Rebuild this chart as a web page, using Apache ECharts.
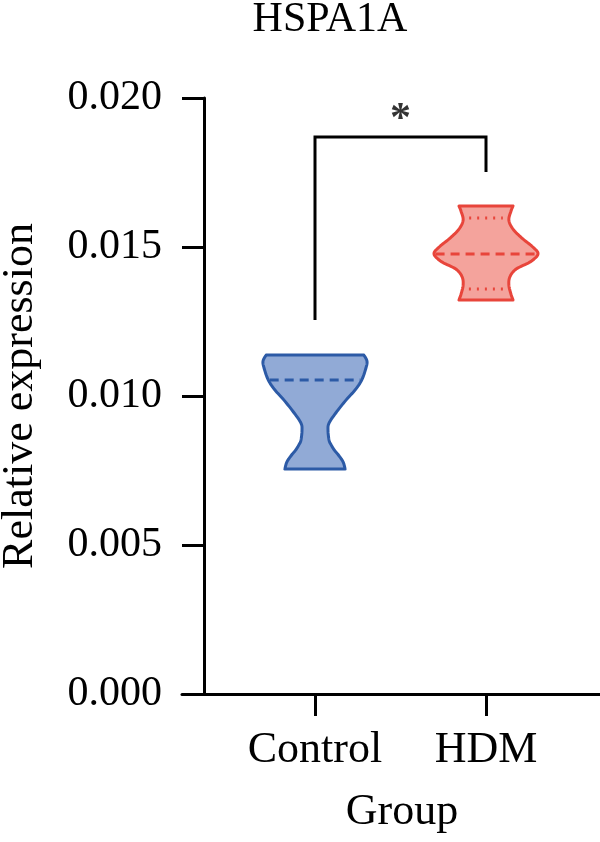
<!DOCTYPE html>
<html><head><meta charset="utf-8">
<script src="https://cdn.jsdelivr.net/npm/echarts@6/dist/echarts.min.js"></script>
<style>html,body{margin:0;padding:0;background:#fff}#c{width:600px;height:842px}</style>
</head><body><div id="c"></div>
<script>
const categories = ['Control', 'HDM'];
const yTicks = [0, 0.005, 0.010, 0.015, 0.020];
// violin outline: values (relative expression) and normalised density
const controlValues  = [0.00755, 0.00779, 0.00802, 0.00819, 0.00836, 0.00852, 0.00886, 0.00909, 0.00943, 0.00987, 0.0102, 0.01054, 0.01094, 0.01117, 0.011376];
const controlDensity = [0.58, 0.54, 0.45, 0.37, 0.31, 0.27, 0.25, 0.27, 0.40, 0.60, 0.77, 0.90, 0.98, 1.0, 0.94];
const hdmValues  = [0.013221, 0.01342, 0.01372, 0.0140, 0.01426, 0.0145, 0.014765, 0.0150, 0.0153, 0.0156, 0.0159, 0.0162, 0.016376];
const hdmDensity = [0.52, 0.48, 0.44, 0.46, 0.58, 0.85, 1.0, 0.90, 0.69, 0.52, 0.44, 0.48, 0.52];
const medians = [0.010537, 0.014765];
const q1 = [null, 0.013591];
const q3 = [null, 0.015973];
// significance bracket
const bracketX = [1, 1, 2, 2];
const bracketY = [0.01255, 0.01869, 0.01869, 0.01752];
const starPos = [1.5, 0.01953];
const starText = '*';

const profiles = [
  {v: controlValues, d: controlDensity, stroke: '#2c5aa6', fill: '#91aad6'},
  {v: hdmValues, d: hdmDensity, stroke: '#e8453b', fill: '#f4a39c'}
];
const HALF = 0.304;
const FONT = 'Liberation Serif';

function densAt(p, val) {
  for (let i = 0; i < p.v.length - 1; i++) {
    if (val >= p.v[i] && val <= p.v[i+1]) {
      const t = (val - p.v[i]) / (p.v[i+1] - p.v[i]);
      return p.d[i] + t * (p.d[i+1] - p.d[i]);
    }
  }
  return 0;
}

// Catmull-Rom sampling of a pixel polyline
function smoothLine(pts, steps) {
  const out = [];
  const n = pts.length;
  const P = k => pts[Math.max(0, Math.min(n - 1, k))];
  for (let i = 0; i < n - 1; i++) {
    const p0 = P(i - 1), p1 = P(i), p2 = P(i + 1), p3 = P(i + 2);
    for (let s = 0; s < steps; s++) {
      const t = s / steps, t2 = t * t, t3 = t2 * t;
      const f = (a, b, c, d) => 0.5 * ((2 * b) + (-a + c) * t + (2 * a - 5 * b + 4 * c - d) * t2 + (-a + 3 * b - 3 * c + d) * t3);
      out.push([f(p0[0], p1[0], p2[0], p3[0]), f(p0[1], p1[1], p2[1], p3[1])]);
    }
  }
  out.push(pts[n - 1]);
  return out;
}

const chart = echarts.init(document.getElementById('c'), null, {renderer: 'canvas'});
chart.setOption({
  animation: false,
  backgroundColor: '#fff',
  title: {
    text: 'HSPA1A', left: 325, top: -6, textAlign: 'center',
    textStyle: {fontFamily: FONT, fontSize: 42, fontWeight: 'normal', color: '#000'}
  },
  grid: {left: 182, right: 0, top: 98, bottom: 148, containLabel: false, outerBoundsMode: 'none'},
  xAxis: {
    type: 'value', min: 2/9, max: 8/3,
    splitLine: {show: false},
    axisLine: {show: true, onZero: false, lineStyle: {color: '#000', width: 3}},
    axisTick: {show: true, length: 22, customValues: [1, 2], lineStyle: {color: '#000', width: 3}},
    axisLabel: {customValues: [1, 2], formatter: v => categories[Math.round(v) - 1], margin: 34,
      fontFamily: FONT, fontSize: 44, color: '#000'},
    name: 'Group', nameLocation: 'middle', nameGap: 96,
    nameTextStyle: {fontFamily: FONT, fontSize: 44, color: '#000', padding: [0, 0, 0, 22]}
  },
  yAxis: {
    type: 'value', min: 0, max: 0.02, interval: 0.005, offset: -22,
    splitLine: {show: false},
    axisLine: {show: true, lineStyle: {color: '#000', width: 3}},
    axisTick: {show: true, length: 22, lineStyle: {color: '#000', width: 3}},
    axisLabel: {formatter: v => v.toFixed(3), margin: 42, fontFamily: FONT, fontSize: 42, color: '#000'},
    name: 'Relative expression', nameLocation: 'middle', nameGap: 162,
    nameTextStyle: {fontFamily: FONT, fontSize: 44, color: '#000'}
  },
  series: [
    {
      type: 'custom',
      data: [[1], [2]],
      renderItem: function (params, api) {
        const i = params.dataIndex;
        const x = api.value(0);
        const p = profiles[i];
        const right = [], left = [];
        for (let k = 0; k < p.v.length; k++) right.push(api.coord([x + p.d[k] * HALF, p.v[k]]));
        for (let k = p.v.length - 1; k >= 0; k--) left.push(api.coord([x - p.d[k] * HALF, p.v[k]]));
        const pts = smoothLine(right, 8).concat(smoothLine(left, 8));
        const children = [{
          type: 'polygon', shape: {points: pts},
          style: {fill: p.fill, stroke: p.stroke, lineWidth: 3, lineJoin: 'round'}
        }];
        const addLine = (val, dash, shrink) => {
          const w = densAt(p, val) * HALF * shrink;
          const a = api.coord([x - w, val]), b = api.coord([x + w, val]);
          children.push({type: 'line', shape: {x1: a[0], y1: a[1], x2: b[0], y2: b[1]},
            style: {stroke: p.stroke, lineWidth: 3, lineDash: dash}});
        };
        addLine(medians[i], [9, 6], 0.97);
        if (q1[i] != null) addLine(q1[i], [2, 6], 0.72);
        if (q3[i] != null) addLine(q3[i], [2, 6], 0.72);
        return {type: 'group', children: children};
      },
      z: 3
    },
    {
      type: 'line',
      data: bracketX.map((x, k) => [x, bracketY[k]]),
      symbol: 'none',
      lineStyle: {color: '#000', width: 3, join: 'miter'},
      z: 4
    },
    {
      type: 'scatter',
      data: [starPos],
      symbolSize: 0,
      label: {show: true, formatter: starText, position: 'inside', offset: [0, 8],
        fontFamily: FONT, fontSize: 42, fontWeight: 'bold', color: '#000'},
      z: 4
    }
  ]
});
</script></body></html>
